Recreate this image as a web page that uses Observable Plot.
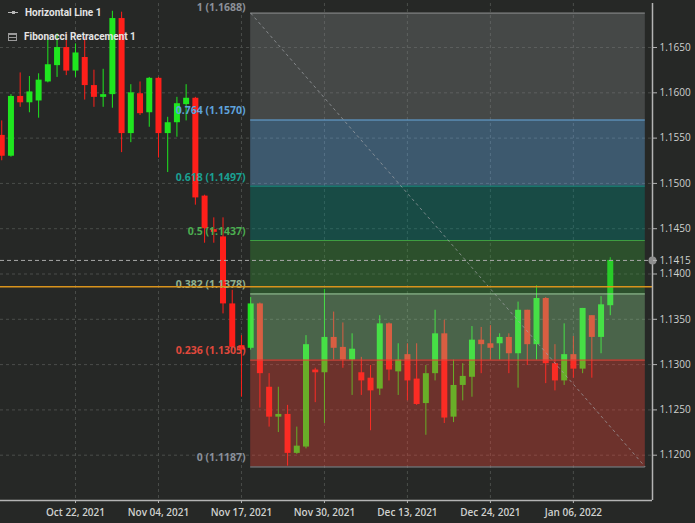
<!DOCTYPE html>
<html>
<head>
<meta charset="utf-8">
<script src="https://cdn.jsdelivr.net/npm/d3@7"></script>
<script src="https://cdn.jsdelivr.net/npm/@observablehq/plot@0.6"></script>
<style>
  html, body { margin: 0; padding: 0; background: #262826; }
  #wrap { position: relative; width: 695px; height: 523px; overflow: hidden; background: #262826; }
  #legend { position: absolute; left: 0; top: 0; font-family: Roboto, sans-serif; font-weight: 700; font-size: 10px; color: #e4e4e4; }
  .row { position: absolute; left: 8px; white-space: nowrap; display: flex; align-items: center; }
  .row span.t { margin-left: 7px; }
  .ih { position: relative; width: 10px; height: 1px; background: #b8b8b8; }
  .ih::after { content: ""; position: absolute; left: 4px; top: -1px; width: 3px; height: 3px; background: #b8b8b8; }
  .if { width: 9px; height: 8px; border: 1px solid #9a9a9a; background: repeating-linear-gradient(#9a9a9a 0 1px, transparent 1px 3px); box-sizing: border-box; }
</style>
</head>
<body>
<div id="wrap">
  <div id="chart"></div>
  <div id="legend">
    <div class="row" style="top:7px"><div class="ih"></div><span class="t">Horizontal Line 1</span></div>
    <div class="row" style="top:31px"><div class="if"></div><span class="t">Fibonacci Retracement 1</span></div>
  </div>
</div>
<script>
// ---- data ----
const dates = ["2021-10-12","2021-10-13","2021-10-14","2021-10-15","2021-10-18","2021-10-19","2021-10-20","2021-10-21","2021-10-22","2021-10-25","2021-10-26","2021-10-27","2021-10-28","2021-10-29","2021-11-01","2021-11-02","2021-11-03","2021-11-04","2021-11-05","2021-11-08","2021-11-09","2021-11-10","2021-11-11","2021-11-12","2021-11-15","2021-11-16","2021-11-17","2021-11-18","2021-11-19","2021-11-22","2021-11-23","2021-11-24","2021-11-25","2021-11-26","2021-11-29","2021-11-30","2021-12-01","2021-12-02","2021-12-03","2021-12-06","2021-12-07","2021-12-08","2021-12-09","2021-12-10","2021-12-13","2021-12-14","2021-12-15","2021-12-16","2021-12-17","2021-12-20","2021-12-21","2021-12-22","2021-12-23","2021-12-24","2021-12-27","2021-12-28","2021-12-29","2021-12-30","2021-12-31","2022-01-03","2022-01-04","2022-01-05","2022-01-06","2022-01-07","2022-01-10","2022-01-11","2022-01-12"];
const open  = [1.1553,1.1530,1.1596,1.1589,1.1591,1.1612,1.1630,1.1650,1.1624,1.1639,1.1608,1.1595,1.1598,1.1682,1.1555,1.1599,1.1578,1.1616,1.1555,1.1567,1.1587,1.1594,1.1486,1.1449,1.1441,1.1367,1.1321,1.1318,1.1367,1.1275,1.1242,1.1245,1.1202,1.1209,1.1294,1.1291,1.1330,1.1319,1.1305,1.1291,1.1285,1.1273,1.1345,1.1292,1.1311,1.1284,1.1257,1.1290,1.1334,1.1242,1.1277,1.1286,1.1327,1.1323,1.1323,1.1330,1.1312,1.1360,1.1322,1.1373,1.1301,1.1282,1.1311,1.1295,1.1354,1.1330,1.1365];
const high  = [1.1569,1.1598,1.1622,1.1618,1.1621,1.1658,1.1665,1.1665,1.1654,1.1661,1.1625,1.1626,1.1690,1.1689,1.1609,1.1612,1.1617,1.1617,1.1573,1.1595,1.1609,1.1595,1.1487,1.1462,1.1462,1.1382,1.1332,1.1374,1.1368,1.1290,1.1275,1.1255,1.1231,1.1332,1.1296,1.1383,1.1358,1.1346,1.1334,1.1308,1.1299,1.1354,1.1346,1.1323,1.1323,1.1323,1.1299,1.1360,1.1349,1.1305,1.1301,1.1342,1.1341,1.1343,1.1334,1.1334,1.1369,1.1360,1.1387,1.1374,1.1322,1.1345,1.1331,1.1362,1.1354,1.1375,1.1418];
const low   = [1.1525,1.1529,1.1584,1.1578,1.1572,1.1611,1.1617,1.1619,1.1617,1.1592,1.1584,1.1584,1.1583,1.1534,1.1545,1.1575,1.1562,1.1528,1.1512,1.1551,1.1569,1.1476,1.1434,1.1434,1.1356,1.1316,1.1264,1.1316,1.1252,1.1231,1.1225,1.1188,1.1201,1.1207,1.1258,1.1235,1.1305,1.1296,1.1266,1.1266,1.1227,1.1266,1.1282,1.1266,1.1260,1.1255,1.1222,1.1282,1.1235,1.1236,1.1260,1.1264,1.1290,1.1305,1.1305,1.1290,1.1274,1.1299,1.1305,1.1279,1.1271,1.1277,1.1285,1.1290,1.1285,1.1312,1.1354];
const close = [1.1530,1.1596,1.1589,1.1601,1.1614,1.1631,1.1650,1.1624,1.1644,1.1608,1.1595,1.1598,1.1682,1.1555,1.1600,1.1577,1.1616,1.1555,1.1567,1.1588,1.1594,1.1484,1.1450,1.1446,1.1367,1.1319,1.1316,1.1367,1.1290,1.1242,1.1245,1.1202,1.1210,1.1322,1.1291,1.1330,1.1318,1.1305,1.1317,1.1282,1.1271,1.1345,1.1294,1.1305,1.1282,1.1256,1.1290,1.1334,1.1241,1.1277,1.1287,1.1327,1.1322,1.1318,1.1330,1.1312,1.1360,1.1322,1.1373,1.1301,1.1282,1.1311,1.1295,1.1362,1.1330,1.1366,1.1415];

const tickDates  = ["2021-10-22","2021-11-04","2021-11-17","2021-11-30","2021-12-13","2021-12-24","2022-01-06"];
const tickLabels = ["Oct 22, 2021","Nov 04, 2021","Nov 17, 2021","Nov 30, 2021","Dec 13, 2021","Dec 24, 2021","Jan 06, 2022"];
const priceTicks = [1.1200,1.1250,1.1300,1.1350,1.1400,1.1450,1.1500,1.1550,1.1600,1.1650];
const lastPrice = 1.1415;
const horizontalLine = 1.1386;

const fibLevels = [1, 0.764, 0.618, 0.5, 0.382, 0.236, 0];
const fibPrices = [1.1688, 1.1570, 1.1497, 1.1437, 1.1378, 1.1305, 1.1187];
const fibLineColors  = ["#8a8c8e", "#6aa7d8", "#1b8f86", "#3f9e42", "#9acb9a", "#e2473c", "#8a8e94"];
const fibLabelColors = ["#8c9098", "#5fa3dc", "#1aa092", "#4cae50", "#8fb08f", "#e0483c", "#8a909a"];
const fibZoneColors  = ["#818387", "#6ab5f5", "#018c81", "#3a9a3a", "#90d390", "#f3453a"];
const fibStartDate = "2021-11-18";
const fibEndPos = 69.8;   // right edge of the retracement box (trading-day position)

// ---- derived tables ----
const rows = dates.map((d, i) => ({i, date: d, o: open[i], h: high[i], l: low[i], c: close[i]}));
const fibStart = dates.indexOf(fibStartDate);
const levels = fibLevels.map((lv, k) => ({
  text: `${lv} (${fibPrices[k].toFixed(4)})`, price: fibPrices[k], x1: fibStart, x2: fibEndPos,
  line: fibLineColors[k], label: fibLabelColors[k]
}));
const zones = fibZoneColors.map((col, k) => ({top: fibPrices[k], bottom: fibPrices[k + 1], x1: fibStart, x2: fibEndPos, fill: col}));
const diag = [{x1: fibStart, y1: fibPrices[0], x2: fibEndPos, y2: fibPrices[fibPrices.length - 1]}];
const tickPos = tickDates.map(d => dates.indexOf(d));
const xDomain = [-0.134, 70.58];
const yDomain = [1.1150, 1.16986];
const up = "#1fe61f", down = "#ff1f1a";
const labelStyle = {x: "x1", y: "price", text: "text", fill: "label", textAnchor: "end", dx: -5, fontSize: 10.5, fontWeight: 700};

const chart = Plot.plot({
  width: 695, height: 523,
  marginLeft: 0, marginRight: 43, marginTop: 3, marginBottom: 23,
  style: {background: "#262826", color: "#cfd1cf", fontFamily: "Open Sans, sans-serif", fontSize: "10px"},
  x: {type: "linear", domain: xDomain},
  y: {type: "linear", domain: yDomain},
  marks: [
    Plot.gridY(priceTicks, {stroke: "#4a4d4a", strokeOpacity: 1, strokeDasharray: "3,3"}),
    Plot.gridX(tickPos, {stroke: "#4a4d4a", strokeOpacity: 1, strokeDasharray: "3,3"}),
    // candles
    Plot.ruleX(rows, {x: "i", y1: "l", y2: "h", stroke: d => d.c >= d.o ? up : down, strokeWidth: 1}),
    Plot.ruleX(rows, {x: "i", y1: "o", y2: "c", stroke: d => d.c >= d.o ? up : down, strokeWidth: 6}),
    // fibonacci zones
    Plot.rect(zones, {x1: "x1", x2: "x2", y1: "top", y2: "bottom", fill: "fill", fillOpacity: 0.35}),
    Plot.ruleY(levels, {y: "price", x1: "x1", x2: "x2", stroke: "line", strokeWidth: 1}),
    Plot.text(levels.slice(0, 1), {...labelStyle, dy: -5}),
    Plot.text(levels.slice(1), {...labelStyle, dy: -9}),
    Plot.link(diag, {x1: "x1", y1: "y1", x2: "x2", y2: "y2", stroke: "#a0a3a6", strokeOpacity: 0.7, strokeDasharray: "3,3"}),
    // horizontal lines
    Plot.ruleY([lastPrice], {stroke: "#a8a8a8", strokeDasharray: "4,3", strokeWidth: 1}),
    Plot.ruleY([horizontalLine], {stroke: "#d9931c", strokeWidth: 1.6}),
    // axes
    Plot.ruleY([yDomain[0]], {stroke: "#b4b4b4", strokeWidth: 1.5}),
    Plot.ruleX([xDomain[1]], {stroke: "#b4b4b4", strokeWidth: 1.5}),
    Plot.dot([lastPrice], {x: () => xDomain[1], y: d => d, r: 4, fill: "#8e8e8e"}),
    Plot.axisY(priceTicks.concat([lastPrice]), {anchor: "right", tickFormat: d => d.toFixed(4), tickSize: 4, tickPadding: 3, stroke: "#b4b4b4", fill: "#cfd1cf", fontSize: 10, label: null}),
    Plot.axisX(tickPos, {anchor: "bottom", tickFormat: d => tickLabels[tickPos.indexOf(d)], tickSize: 3, tickPadding: 5, stroke: "#b4b4b4", fill: "#cfd1cf", fontSize: 10, fontWeight: 600, label: null})
  ]
});
document.getElementById("chart").appendChild(chart);
</script>
</body>
</html>
